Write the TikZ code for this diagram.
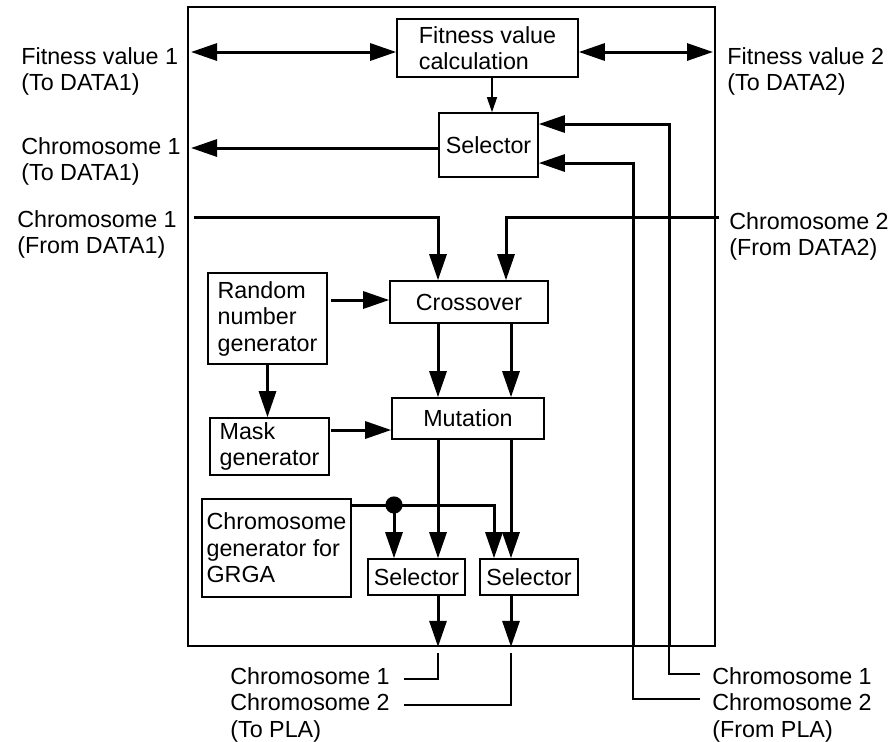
\documentclass[tikz,border=0pt]{standalone}
\usepackage{fontspec}
\setmainfont{Liberation Sans}
\usetikzlibrary{arrows.meta}
\begin{document}
\begin{tikzpicture}[x=0.5pt,y=-0.5pt,
    font=\fontsize{11.65pt}{13.25pt}\selectfont,
    blk/.style={draw, line width=0.8pt, inner sep=0pt, align=left},
    lbl/.style={anchor=north west, inner sep=0pt, align=left},
    thk/.style={line width=1.5pt, -{Triangle[length=13pt,width=8.5pt]}},
    dbl/.style={line width=1.5pt, {Triangle[length=13pt,width=8.5pt]}-{Triangle[length=13pt,width=8.5pt]}},
    thkline/.style={line width=1.5pt},
    thn/.style={line width=0.65pt}]

  \useasboundingbox (0,0) rectangle (893,741);

  % Outer frame
  \node[draw, line width=0.85pt, minimum width=263.5pt, minimum height=319.5pt] (frame) at (451.5,326.5) {};

  % Blocks
  \node[blk, minimum width=90.5pt, minimum height=29pt] (fit) at (487.5,48) {Fitness value\\calculation};
  \node[blk, minimum width=49.5pt, minimum height=32pt] (selT) at (488.5,145) {Selector};
  \node[blk, minimum width=79pt, minimum height=21pt] (cross) at (469,302) {Crossover};
  \node[blk, minimum width=59.5pt, minimum height=45.5pt] (rng) at (267.5,318.5) {Random\\number\\generator};
  \node[blk, minimum width=59.5pt, minimum height=28.5pt] (mask) at (269.5,446.5) {Mask\\generator};
  \node[blk, minimum width=76pt, minimum height=20.5pt] (mut) at (468,418.5) {Mutation};
  \node[blk, minimum width=74.5pt, minimum height=49pt] (gen) at (276.5,548) {Chromosome\\generator for\\GRGA};
  \node[blk, minimum width=48.5pt, minimum height=18pt] (selL) at (416.5,577) {Selector};
  \node[blk, minimum width=49pt, minimum height=18pt] (selR) at (529,577) {Selector};

  % Outside labels
  \node[lbl] (fv1) at (21,47) {Fitness value 1\\(To DATA1)};
  \node[lbl] (ch1to) at (21,137) {Chromosome 1\\(To DATA1)};
  \node[lbl] (ch1from) at (17,210) {Chromosome 1\\(From DATA1)};
  \node[lbl] (fv2) at (727,47) {Fitness value 2\\(To DATA2)};
  \node[lbl] (ch2from) at (729,212) {Chromosome 2\\(From DATA2)};
  \node[lbl] (topla) at (230,667) {Chromosome 1\\Chromosome 2\\(To PLA)};
  \node[lbl] (frompla) at (712,667) {Chromosome 1\\Chromosome 2\\(From PLA)};

  % Columns and free ends
  \coordinate (colA) at (438,0);
  \coordinate (colB) at (511,0);
  \coordinate (f1) at (191,52);
  \coordinate (f2) at (713,52);
  \coordinate (s1) at (191,148);
  \coordinate (d1) at (194,217);
  \coordinate (d2) at (719,217);
  \coordinate (d2c) at (506,217);
  \coordinate (r1) at (331,300);
  \coordinate (m1) at (331,430);
  \coordinate (g1) at (494,505);
  \coordinate (dot) at (394,505);
  \coordinate (p1) at (669,124);
  \coordinate (p2) at (633,163);
  \coordinate (q1) at (700,674);
  \coordinate (q2) at (700,699);
  \coordinate (b1) at (404,679);
  \coordinate (b2) at (404,705);

  % Fitness values
  \draw[dbl] (f1) -- (fit.west |- f1);
  \draw[dbl] (fit.east |- f2) -- (f2);
  \draw[thn, -{Triangle[length=7.5pt,width=5pt]}] ([xshift=2.25pt]fit.south) -- ([xshift=2.25pt]fit.south |- selT.north);

  % Selector in/out
  \draw[thk] (selT.west |- s1) -- (s1);
  \draw[thk] (frame.south -| p1) -- (p1) -- (selT.east |- p1);
  \draw[thk] (frame.south -| p2) -- (p2) -- (selT.east |- p2);
  \draw[thn] (q1) -| (frame.south -| p1);
  \draw[thn] (q2) -| (frame.south -| p2);

  % Chromosomes from DATA1 / DATA2
  \draw[thk] (d1) -| (cross.north -| colA);
  \draw[thk] (d2) -- (d2c) -- (d2c |- cross.north);

  % Random numbers and mask
  \draw[thk] (r1) -- (r1 -| cross.west);
  \draw[thk] (rng.south) -- (rng.south |- mask.north);
  \draw[thk] (m1) -- (m1 -| mut.west);

  % Crossover -> Mutation -> Selectors
  \draw[thk] (cross.south -| colA) -- (mut.north -| colA);
  \draw[thk] (cross.south -| colB) -- (mut.north -| colB);
  \draw[thk] (mut.south -| colA) -- (selL.north -| colA);
  \draw[thk] (mut.south -| colB) -- (selR.north -| colB);

  % GRGA chromosome
  \draw[thk] (gen.east |- g1) -| (selR.north -| g1);
  \fill (dot) circle (4.3pt);
  \draw[thk] (dot) -- (selL.north -| dot);

  % To PLA
  \draw[thk] (selL.south -| colA) -- (frame.south -| colA);
  \draw[thk] (selR.south -| colB) -- (frame.south -| colB);
  \draw[thn] ([yshift=-3pt]frame.south -| colA) |- (b1);
  \draw[thn] ([yshift=-3pt]frame.south -| colB) |- (b2);
\end{tikzpicture}
\end{document}
